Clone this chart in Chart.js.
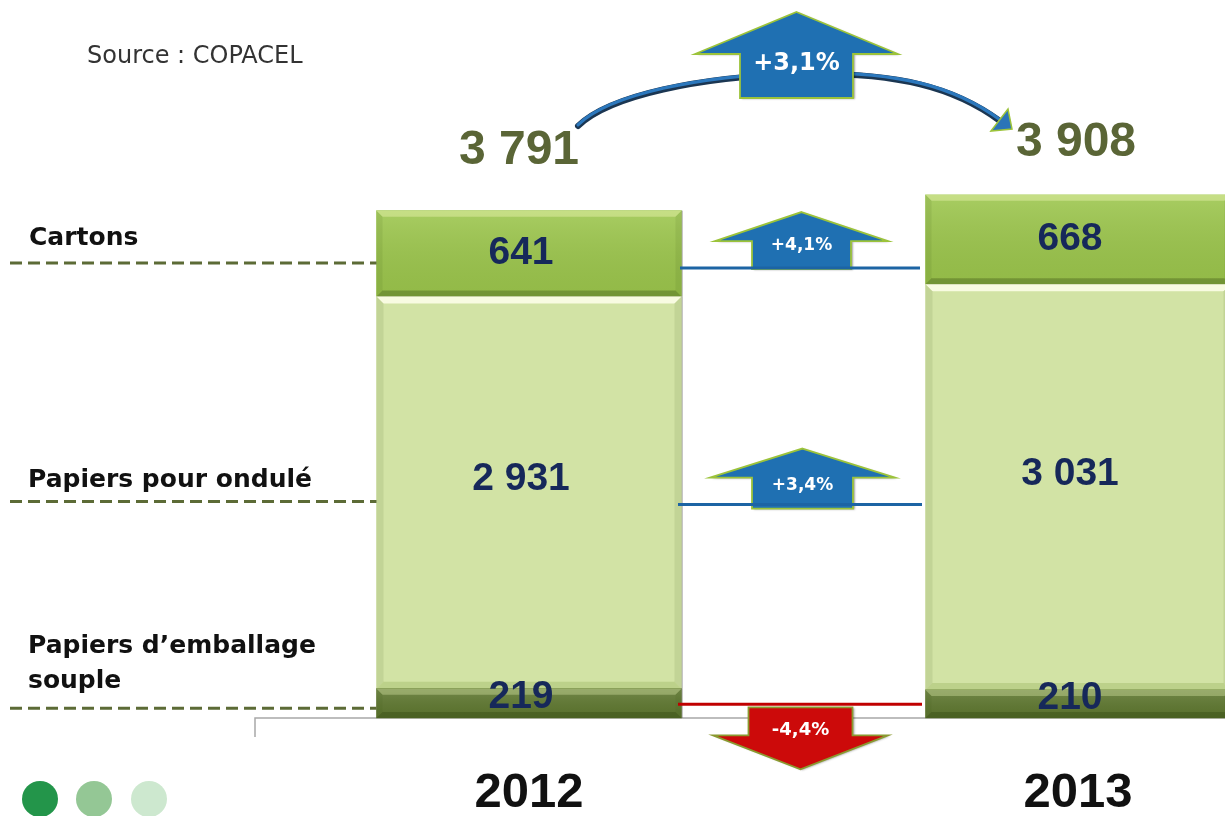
<!DOCTYPE html>
<html>
<head>
<meta charset="utf-8">
<script src="https://cdn.jsdelivr.net/npm/chart.js@4.4.1/dist/chart.umd.min.js"></script>
<style>
html,body{margin:0;padding:0;background:#fff;overflow:hidden;}
#wrap{position:relative;width:1225px;height:816px;}
</style>
</head>
<body>
<div id="wrap"><canvas id="c" width="1225" height="816"></canvas></div>
<script>
// ---- data ----
const categories = ['2012', '2013'];
const seriesNames = ['Papiers d\u2019emballage souple', 'Papiers pour ondulé', 'Cartons'];
const emballage = [219, 210];
const ondule = [2931, 3031];
const cartons = [641, 668];
const totals = [3791, 3908];
const changeCartons = '+4,1%';
const changeOndule = '+3,4%';
const changeEmballage = '-4,4%';
const changeTotal = '+3,1%';
const sourceText = 'Source : COPACEL';

function fmt(v){ return String(v).replace(/\B(?=(\d{3})+(?!\d))/g, ' '); }

const NUMFONT = '"Liberation Sans", Arial, sans-serif';
const LBLFONT = '"DejaVu Sans", sans-serif';
const NAVY = '#16285a';
const OLIVE = '#5a6536';

function upArrow(ctx, cx, tipY, baseY, headHW, shaftHW, bottomY, fill, label, fsize, textY){
  ctx.save();
  ctx.beginPath();
  ctx.moveTo(cx, tipY);
  ctx.lineTo(cx + headHW, baseY);
  ctx.lineTo(cx + shaftHW, baseY);
  ctx.lineTo(cx + shaftHW, bottomY);
  ctx.lineTo(cx - shaftHW, bottomY);
  ctx.lineTo(cx - shaftHW, baseY);
  ctx.lineTo(cx - headHW, baseY);
  ctx.closePath();
  ctx.shadowColor = 'rgba(0,0,0,0.35)';
  ctx.shadowOffsetX = 2; ctx.shadowOffsetY = 1; ctx.shadowBlur = 2;
  ctx.fillStyle = fill; ctx.fill();
  ctx.shadowColor = 'transparent';
  ctx.lineWidth = 1.8; ctx.strokeStyle = '#9cc33a'; ctx.stroke();
  ctx.fillStyle = '#fff';
  ctx.font = 'bold ' + fsize + 'px ' + LBLFONT;
  ctx.textAlign = 'center'; ctx.textBaseline = 'middle';
  ctx.fillText(label, cx, textY);
  ctx.restore();
}
function downArrow(ctx, cx, topY, headTopY, headHW, shaftHW, tipY, fill, label, fsize, textY){
  ctx.save();
  ctx.beginPath();
  ctx.moveTo(cx - shaftHW, topY);
  ctx.lineTo(cx + shaftHW, topY);
  ctx.lineTo(cx + shaftHW, headTopY);
  ctx.lineTo(cx + headHW, headTopY);
  ctx.lineTo(cx, tipY);
  ctx.lineTo(cx - headHW, headTopY);
  ctx.lineTo(cx - shaftHW, headTopY);
  ctx.closePath();
  ctx.shadowColor = 'rgba(0,0,0,0.3)';
  ctx.shadowOffsetX = 2; ctx.shadowOffsetY = 1; ctx.shadowBlur = 2;
  ctx.fillStyle = fill; ctx.fill();
  ctx.shadowColor = 'transparent';
  ctx.lineWidth = 1.8; ctx.strokeStyle = '#8a9a30'; ctx.stroke();
  ctx.fillStyle = '#fff';
  ctx.font = 'bold ' + fsize + 'px ' + LBLFONT;
  ctx.textAlign = 'center'; ctx.textBaseline = 'middle';
  ctx.fillText(label, cx, textY);
  ctx.restore();
}

const deco = {
  id: 'deco',
  beforeDatasetsDraw(chart){
    const ctx = chart.ctx;
    const yb = chart.scales.y.getPixelForValue(0);
    ctx.save();
    ctx.strokeStyle = '#a8a8a8'; ctx.lineWidth = 1.5;
    ctx.beginPath();
    ctx.moveTo(255, yb + 19); ctx.lineTo(255, yb); ctx.lineTo(1225, yb);
    ctx.stroke();
    ctx.restore();
  },
  afterDatasetsDraw(chart){
    const ctx = chart.ctx;
    const metas = [0,1,2].map(i => chart.getDatasetMeta(i));
    // bevel effects
    metas.forEach((m, di) => {
      m.data.forEach(el => {
        const l = el.x - el.width/2, r = el.x + el.width/2, t = el.y, b = el.base;
        const h = b - t;
        ctx.save();
        if (di !== 1) {
          const g = ctx.createLinearGradient(0, t, 0, b);
          g.addColorStop(0, 'rgba(255,255,255,0.12)');
          g.addColorStop(1, 'rgba(0,0,0,0.06)');
          ctx.fillStyle = g; ctx.fillRect(l, t, r - l, h);
        }
        const bv = di === 1 ? 7 : Math.min(6, h/4);
        // top light strip
        ctx.fillStyle = di === 1 ? 'rgba(255,255,235,0.85)' : (di === 0 ? 'rgba(200,215,150,0.45)' : 'rgba(255,255,200,0.35)');
        ctx.beginPath(); ctx.moveTo(l, t); ctx.lineTo(r, t); ctx.lineTo(r - bv, t + bv); ctx.lineTo(l + bv, t + bv); ctx.closePath(); ctx.fill();
        // bottom dark strip
        ctx.fillStyle = di === 1 ? 'rgba(150,175,90,0.35)' : 'rgba(40,60,10,0.3)';
        ctx.beginPath(); ctx.moveTo(l, b); ctx.lineTo(r, b); ctx.lineTo(r - bv, b - bv); ctx.lineTo(l + bv, b - bv); ctx.closePath(); ctx.fill();
        // sides
        ctx.fillStyle = 'rgba(60,90,20,0.10)';
        ctx.beginPath(); ctx.moveTo(l, t); ctx.lineTo(l + bv, t + bv); ctx.lineTo(l + bv, b - bv); ctx.lineTo(l, b); ctx.closePath(); ctx.fill();
        ctx.beginPath(); ctx.moveTo(r, t); ctx.lineTo(r - bv, t + bv); ctx.lineTo(r - bv, b - bv); ctx.lineTo(r, b); ctx.closePath(); ctx.fill();
        ctx.fillStyle = 'rgba(90,90,90,0.35)';
        ctx.fillRect(r, t, 1.5, h);
        ctx.restore();
      });
    });
    // value labels
    const series = [emballage, ondule, cartons];
    const offs = [-6, -13, 0];
    ctx.save();
    ctx.fillStyle = NAVY; ctx.textAlign = 'center'; ctx.textBaseline = 'middle';
    ctx.font = 'bold 39px ' + NUMFONT;
    metas.forEach((m, di) => {
      m.data.forEach((el, j) => {
        const cy = (el.y + el.base)/2 + offs[di];
        ctx.fillText(fmt(series[di][j]), el.x - 8, cy);
      });
    });
    // totals
    ctx.fillStyle = OLIVE; ctx.font = 'bold 48px ' + NUMFONT;
    metas[2].data.forEach((el, j) => {
      ctx.fillText(fmt(totals[j]), el.x - 10 + j*8, el.y - 60 + j*8);
    });
    ctx.restore();

    const e0 = metas[0].data[0], o0 = metas[1].data[0], c0 = metas[2].data[0];
    const midC = (c0.y + c0.base)/2, midO = (o0.y + o0.base)/2, midE = (e0.y + e0.base)/2;
    // left labels + dashed lines
    ctx.save();
    ctx.fillStyle = '#111'; ctx.font = 'bold 25px ' + LBLFONT;
    ctx.textAlign = 'left'; ctx.textBaseline = 'middle';
    ctx.fillText(seriesNames[2], 29, midC - 15);
    ctx.fillText(seriesNames[1], 28, midO - 12);
    const parts = seriesNames[0].split(' ');
    ctx.fillText(parts[0] + ' ' + parts[1], 28, midE - 57);
    ctx.fillText(parts[2], 28, midE - 22);
    ctx.strokeStyle = '#5c6b36'; ctx.lineWidth = 3; ctx.setLineDash([12, 6]);
    const lx0 = 10, lx1 = c0.x - c0.width/2;
    [[midC + 9.5],[midO + 9],[midE + 5]].forEach(([y]) => {
      ctx.beginPath(); ctx.moveTo(lx0, y); ctx.lineTo(lx1, y); ctx.stroke();
    });
    ctx.restore();

    // connector arrows between bars
    const L1 = midC + 14.5, L2 = midO + 12, L3 = midE + 1;
    upArrow(ctx, 801.5, L1 - 56, L1 - 27, 86.5, 49.5, L1 + 1, '#1f70b2', changeCartons, 17, L1 - 22);
    upArrow(ctx, 802.5, L2 - 56, L2 - 27, 92.5, 50.5, L2 + 4, '#1f70b2', changeOndule, 17, L2 - 19);
    downArrow(ctx, 800.5, L3 + 3, L3 + 31, 87.5, 52, L3 + 65, '#cc0a0a', changeEmballage, 18, L3 + 26);
    ctx.save();
    ctx.lineWidth = 3;
    ctx.strokeStyle = '#1c64a4';
    ctx.beginPath(); ctx.moveTo(680, L1); ctx.lineTo(920, L1); ctx.stroke();
    ctx.beginPath(); ctx.moveTo(678, L2); ctx.lineTo(922, L2); ctx.stroke();
    ctx.strokeStyle = '#c00000';
    ctx.beginPath(); ctx.moveTo(678, L3); ctx.lineTo(922, L3); ctx.stroke();
    ctx.restore();

    // curved total arrow
    ctx.save();
    ctx.lineCap = 'round';
    const curve = () => {
      ctx.beginPath();
      ctx.moveTo(578, 126);
      ctx.bezierCurveTo(610, 95, 700, 77, 797, 74);
      ctx.bezierCurveTo(900, 72, 955, 88, 1000, 121);
    };
    ctx.strokeStyle = '#1b3652'; ctx.lineWidth = 6; curve(); ctx.stroke();
    ctx.save(); ctx.translate(0, -1.2);
    ctx.strokeStyle = '#2c78bd'; ctx.lineWidth = 3.2; curve(); ctx.stroke();
    ctx.restore();
    ctx.beginPath(); ctx.moveTo(991, 131); ctx.lineTo(1008, 109); ctx.lineTo(1012, 129); ctx.closePath();
    ctx.fillStyle = '#2a74b8'; ctx.fill();
    ctx.strokeStyle = '#9cc33a'; ctx.lineWidth = 1.5; ctx.stroke();
    ctx.restore();
    upArrow(ctx, 796.5, 12, 54, 101.5, 56.5, 98, '#1f70b2', changeTotal, 24, 64);

    // source
    ctx.save();
    ctx.fillStyle = '#333'; ctx.font = '24px ' + LBLFONT;
    ctx.textAlign = 'left'; ctx.textBaseline = 'middle';
    ctx.fillText(sourceText, 87, 57);
    // dots
    [['#23954a', 40], ['#94c795', 94], ['#cde8cf', 149]].forEach(([c, x]) => {
      ctx.beginPath(); ctx.arc(x, 799, 18, 0, Math.PI*2); ctx.fillStyle = c; ctx.fill();
    });
    ctx.restore();
  }
};

new Chart(document.getElementById('c'), {
  type: 'bar',
  data: {
    labels: categories,
    datasets: [
      { label: seriesNames[0], data: emballage, backgroundColor: '#5f7830', clip: false },
      { label: seriesNames[1], data: ondule, backgroundColor: '#d2e3a5', clip: false },
      { label: seriesNames[2], data: cartons, backgroundColor: '#9cc64c', clip: false }
    ]
  },
  options: {
    responsive: false,
    animation: false,
    events: [],
    barThickness: 305,
    layout: { padding: { left: 529, right: 147, top: 0, bottom: 1 } },
    plugins: { legend: { display: false }, tooltip: { enabled: false } },
    scales: {
      x: {
        stacked: true,
        offset: false,
        grid: { display: false, drawTicks: false },
        border: { display: false },
        ticks: { color: '#111', padding: 53, font: { family: NUMFONT, size: 49, weight: 'bold', lineHeight: 0.9 } },
        afterFit(scale) { scale.height = 97; }
      },
      y: {
        stacked: true,
        display: false,
        min: 0,
        max: 5365
      }
    }
  },
  plugins: [deco]
});
</script>
</body>
</html>
